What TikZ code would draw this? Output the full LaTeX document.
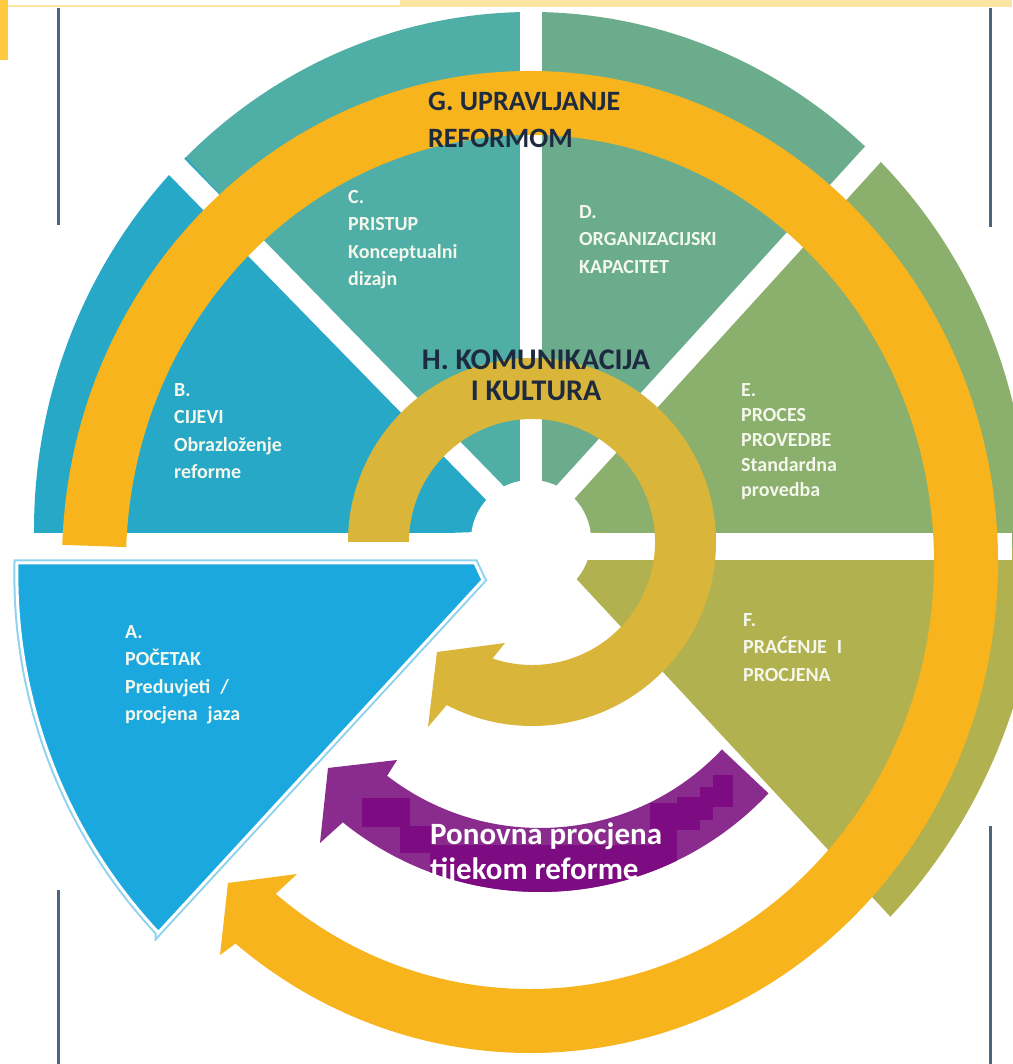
\documentclass[tikz,border=0pt]{standalone}
\usepackage{fontspec}
\setmainfont{Carlito}
\usetikzlibrary{calc}
\definecolor{colA}{HTML}{1BA8DF}
\definecolor{colAline}{HTML}{8ED2EE}
\definecolor{colB}{HTML}{27A8C6}
\definecolor{colC}{HTML}{4FAEA5}
\definecolor{colD}{HTML}{6BAC8D}
\definecolor{colE}{HTML}{8BAF6C}
\definecolor{colF}{HTML}{B2B150}
\definecolor{colG}{HTML}{F8B41D}
\definecolor{colH}{HTML}{D9B53A}
\definecolor{colP}{HTML}{8A2C8E}
\definecolor{colPdark}{HTML}{7D0C82}
\definecolor{darktext}{HTML}{1D2A3F}
\definecolor{lighttext}{HTML}{F4F7EC}
\definecolor{framecol}{HTML}{4D6680}
\definecolor{pageyellow}{HTML}{FCE4A2}
\definecolor{baryellow}{HTML}{FFC940}
\tikzset{
  gapline/.style={draw=white, line width=22},
  frameline/.style={draw=framecol, line width=3},
  sectext/.style={text=lighttext, align=left, inner sep=0, font=\fontsize{20}{27.5}\selectfont\bfseries},
  sectextE/.style={text=lighttext, align=left, inner sep=0, font=\fontsize{20}{25}\selectfont\bfseries},
  htext/.style={text=darktext, align=center, inner sep=0, font=\fontsize{30}{31}\selectfont\bfseries},
  gtext/.style={text=darktext, align=left, inner sep=0, font=\fontsize{28}{37}\selectfont\bfseries},
  ptext/.style={text=white, align=left, inner sep=0, font=\fontsize{31}{35}\selectfont\bfseries},
}
\begin{document}
\begin{tikzpicture}[x=1pt,y=1pt]
\useasboundingbox (0,0) rectangle (1012,1064);
\fill[white] (0,0) rectangle (1012,1064);
\coordinate (O) at (531,534);
\coordinate (Gc) at (530,502);
\coordinate (Hc) at (532,522);
\coordinate (Pc) at (540,486);
\coordinate (Ac) at (540,489);
% sectors
\fill[colF] (O) -- ++(-45.2:510 and 545) arc[start angle=-45.2, end angle=0, x radius=510, y radius=545] -- cycle;
\fill[colE] (O) -- ++(-2:497 and 518) arc[start angle=-2, end angle=48, x radius=497, y radius=518] -- cycle;
\fill[colD] (O) -- ++(47:497 and 518) arc[start angle=47, end angle=91, x radius=497, y radius=518] -- cycle;
\fill[colC] (O) -- ++(89:497 and 518) arc[start angle=89, end angle=135, x radius=497, y radius=518] -- cycle;
\fill[colB] (O) -- ++(134:497 and 518) arc[start angle=134, end angle=182, x radius=497, y radius=518] -- cycle;
% gaps
\draw[gapline] (O) -- ++(47.7:620);
\draw[gapline] (O) -- ++(90:620);
\draw[gapline] (O) -- ++(134.3:620);
\fill[white] (0,504) rectangle (1012,531);
\fill[white] (531,524) circle (60);
% sector A
\coordinate (A1) at (158,131);
\coordinate (A2) at (483,484);
\coordinate (A3) at (475,501);
\coordinate (A4) at (17,501);
\draw[draw=colAline, line width=7, line join=miter] (A1) -- (A2) -- (A3) -- (A4) arc[start angle=178.7, end angle=223.1, radius=523] -- cycle;
\filldraw[fill=colA, draw=white, line width=3, line join=miter] (A1) -- (A2) -- (A3) -- (A4) arc[start angle=178.7, end angle=223.1, radius=523] -- cycle;
% G ring
\fill[colG] ($(Gc)+(178:468 and 491)$) arc[start angle=178, end angle=-129, x radius=468, y radius=491]
  -- (220,109) -- (228,181) -- (297,190)
  -- ($(Gc)+(-129:404 and 427)$) arc[start angle=-129, end angle=178, x radius=404, y radius=427] -- cycle;
% H ring
\fill[colH] ($(Hc)+(180:184)$) arc[start angle=180, end angle=-117.6, radius=184]
  -- (428,337) -- (437,412) -- (505,421)
  -- ($(Hc)+(-108.7:123)$) arc[start angle=-108.7, end angle=180, radius=123] -- cycle;
% purple arrow
\def\purplepath{($(Pc)+(-43.3:314)$) arc[start angle=-43.3, end angle=-128.9, radius=314]
  -- (320,221) -- (328,296) -- (397,304)
  -- ($(Pc)+(-127.7:250)$) arc[start angle=-127.7, end angle=-43.3, radius=250] -- cycle}
\fill[colP] \purplepath;
\begin{scope}
\clip \purplepath;
\fill[colPdark] (362,237) rectangle (410,266);
\fill[colPdark] (400,211) rectangle (432,238);
\fill[colPdark] (430,169) rectangle (650,219);
\fill[colPdark] (650,170) rectangle (677,261);
\fill[colPdark] (677,234) rectangle (700,267);
\fill[colPdark] (700,244) rectangle (713,277);
\fill[colPdark] (713,257) rectangle (733,289);
\end{scope}
% texts
\node[sectext, anchor=north west] (tA) at (125,439) {A.\\POČETAK\\Preduvjeti\enspace/\\procjena\enspace jaza};
\node[sectext, anchor=north west] (tB) at (174,681) {B.\\CIJEVI\\Obrazloženje\\reforme};
\node[sectext, anchor=north west] (tC) at (348,874) {C.\\PRISTUP\\Konceptualni\\dizajn};
\node[sectext, anchor=north west] (tD) at (579,859) {D.\\ORGANIZACIJSKI\\KAPACITET};
\node[sectextE, anchor=north west] (tE) at (741,681) {E.\\PROCES\\PROVEDBE\\Standardna\\provedba};
\node[sectext, anchor=north west] (tF) at (743,451) {F.\\PRAĆENJE\enspace I\\PROCJENA};
\node[htext, anchor=north] (tH) at (536,714) {H. KOMUNIKACIJA\\I KULTURA};
\node[gtext, anchor=north west] (tG) at (428,972) {G. UPRAVLJANJE\\REFORMOM};
\node[ptext, anchor=north west] (tP) at (430,241) {Ponovna procjena\\tijekom reforme};
% page artifacts
\fill[pageyellow] (400,1057) rectangle (1012,1064);
\draw[draw=pageyellow, line width=1.2] (0,1058) -- (400,1058);
\fill[baryellow] (0,1004) rectangle (8,1064);
\draw[frameline] (58,1056) -- (58,839);
\draw[frameline] (990,1056) -- (990,837);
\draw[frameline] (58,174) -- (58,0);
\draw[frameline] (990,238) -- (990,0);
\end{tikzpicture}
\end{document}
